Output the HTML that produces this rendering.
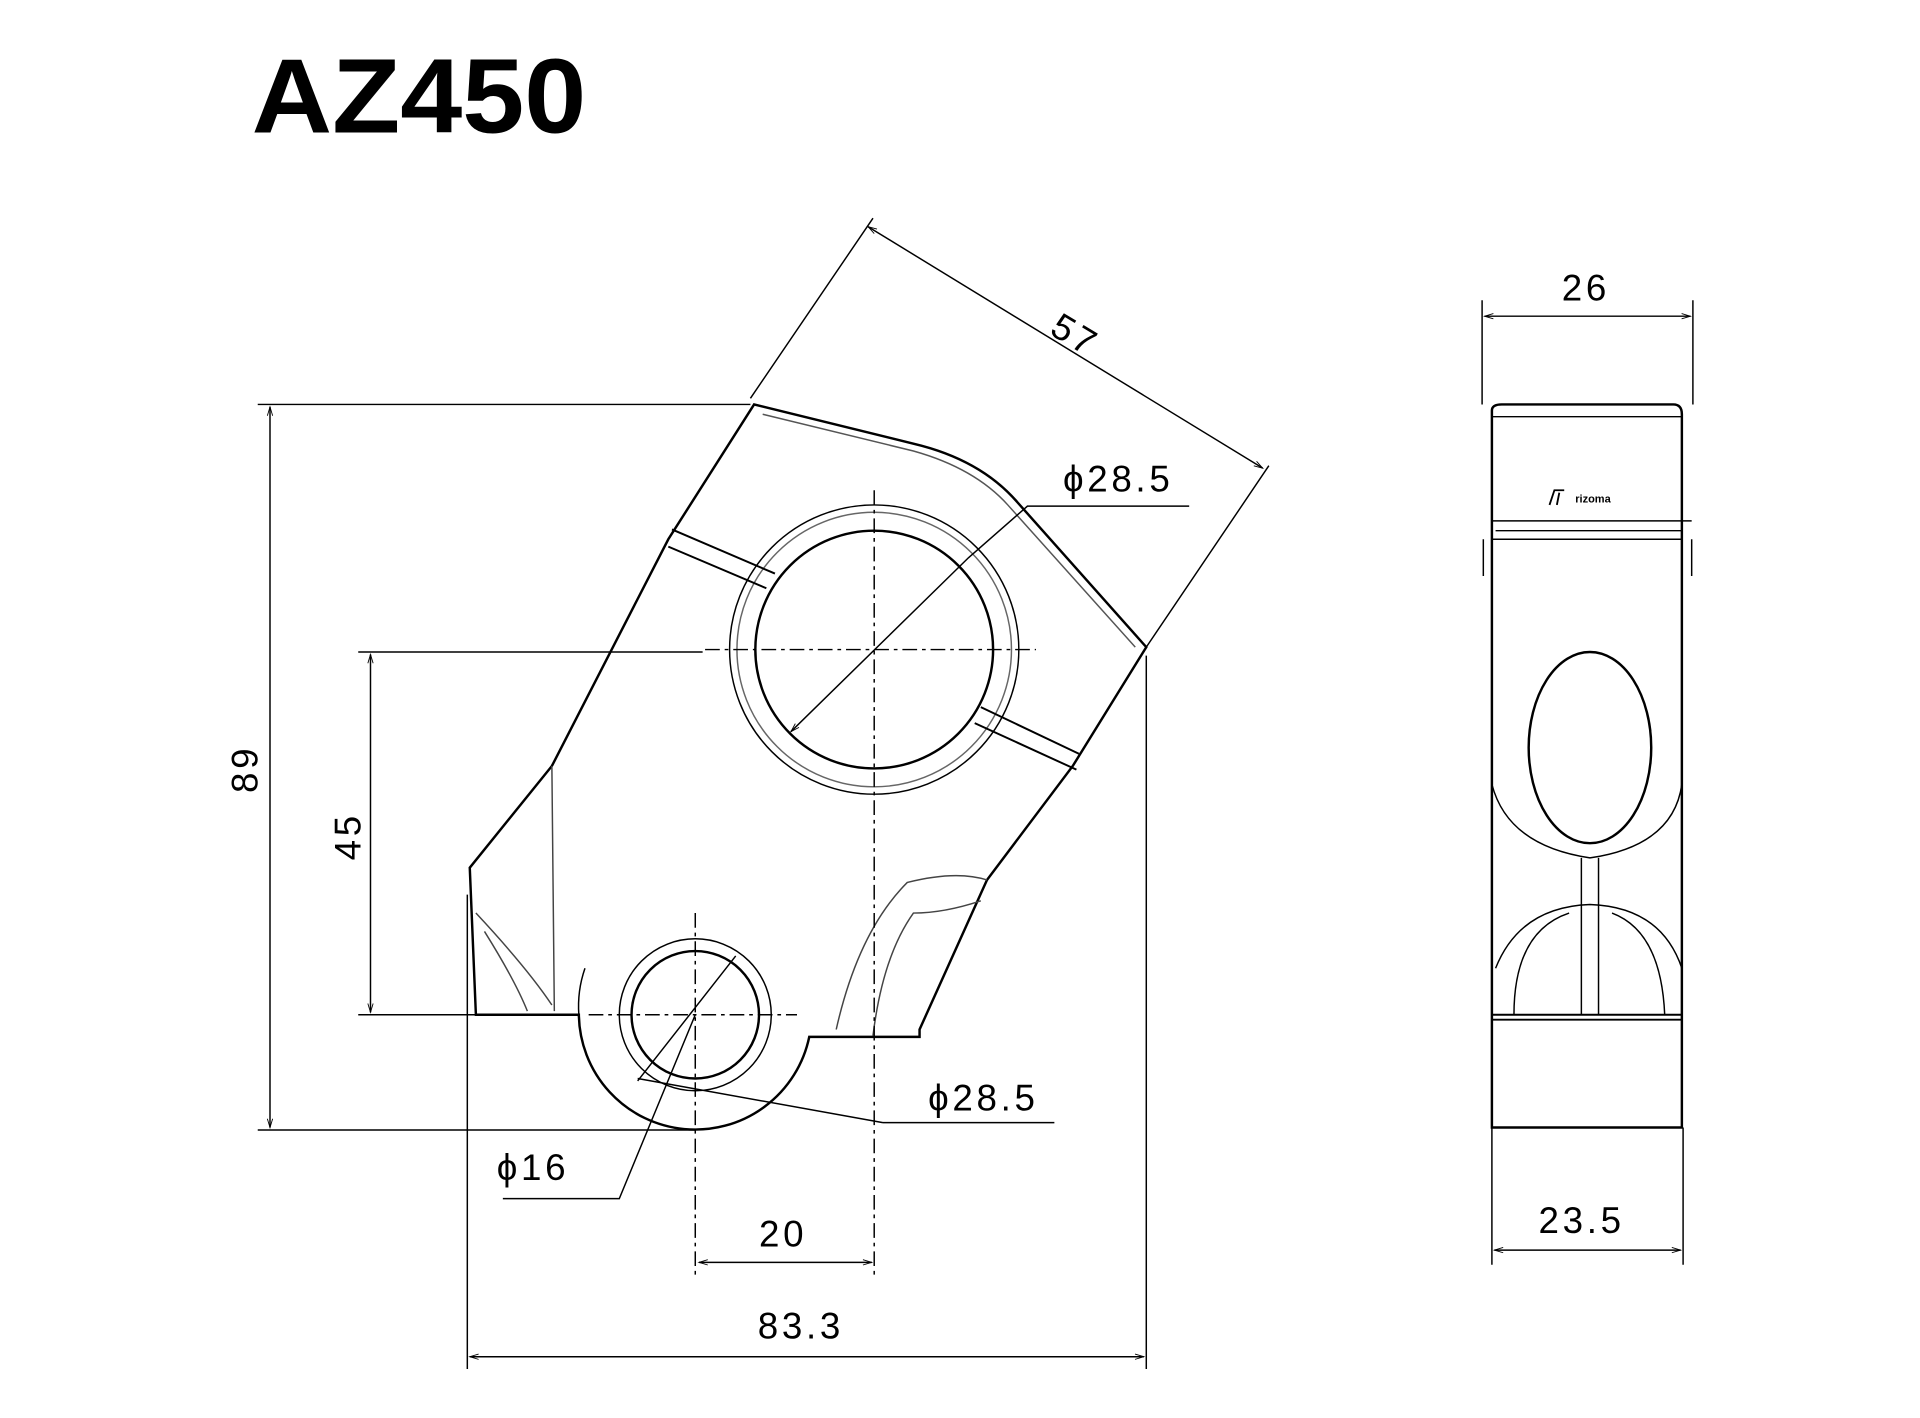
<!DOCTYPE html>
<html><head><style>
html,body{margin:0;padding:0;background:#fff;}
svg{display:block;}
text{font-family:"Liberation Sans",sans-serif;fill:#000;}
</style></head><body>
<svg width="1920" height="1418" viewBox="0 0 1566 1157" xmlns="http://www.w3.org/2000/svg">
<defs>
<marker id="a" viewBox="0 0 10 10" refX="10" refY="5" markerWidth="10" markerHeight="6" orient="auto-start-reverse"><path d="M0,2 L10,5 L0,8" fill="none" stroke="#000" stroke-width="1"/></marker>
</defs>
<text x="205" y="108" font-size="86" font-weight="bold" textLength="273" lengthAdjust="spacingAndGlyphs">AZ450</text>

<g fill="none" stroke="#000" stroke-width="1.2">
<path d="M615,330 L745,362 Q800,375 830,410 L935,528 L875,625 L805,718 L750,840 L750,846 L660,846 A95,95 0 0 1 472,828 L388,828 L383,708 L450,625 L545,440 Z" stroke-width="2"/>
<path d="M622,338 L745,368 Q795,382 822,412 L926,528" stroke="#555"/>
<circle cx="713" cy="530" r="118"/>
<circle cx="713" cy="530" r="112" stroke="#666"/>
<circle cx="713" cy="530" r="97" stroke-width="2"/>
<path d="M548,432 L632,468 M545,446 L625,480" stroke-width="1.6"/>
<path d="M795,590 L878,628 M800,577 L880,615" stroke-width="1.6"/>
<path d="M450,625 L452,825 M388,745 Q430,790 450,820 M395,760 Q420,800 430,825" stroke="#444"/>
<path d="M805,718 Q780,710 740,720 Q700,760 682,840 M800,735 Q770,745 745,745 Q720,780 712,845" stroke="#444"/>
<circle cx="567" cy="828" r="62"/>
<circle cx="567" cy="828" r="52" stroke-width="2"/>
<path d="M477,790 A95,95 0 0 0 472,828" />
<path d="M713,400 L713,1040 M575,530 L845,530 M567,745 L567,1040 M480,828 L650,828" stroke-dasharray="12,4,3,4"/>
<path d="M645,597 L790,455 L838,413 L970,413" marker-start="url(#a)"/>
<path d="M520,882 L600,780 M720,916 L860,916 M520,880 L720,916"/>
<path d="M567,828 L505,978 L410,978"/>
<path d="M210,330 L612,330 M210,922 L567,922"/>
<path d="M220,332 L220,920" marker-start="url(#a)" marker-end="url(#a)"/>
<path d="M292,532 L573,532 M292,828 L388,828"/>
<path d="M302,534 L302,826" marker-start="url(#a)" marker-end="url(#a)"/>
<path d="M612,325 L712,178 M935,528 L1035,380"/>
<path d="M708,185 L1030,382" marker-start="url(#a)" marker-end="url(#a)"/>
<path d="M381,730 L381,1117 M935,535 L935,1117"/>
<path d="M383,1107 L933,1107" marker-start="url(#a)" marker-end="url(#a)"/>
<path d="M570,1030 L711,1030" marker-start="url(#a)" marker-end="url(#a)"/>

<path d="M1217,920 L1217,335 Q1217,330 1225,330 L1365,330 Q1372,330 1372,338 L1372,920 Z" stroke-width="2"/>
<path d="M1217,340 L1372,340 M1217,425 L1380,425 M1220,433 L1372,433 M1217,440 L1372,440" />
<path d="M1210,440 L1210,470 M1380,440 L1380,470"/>
<ellipse cx="1297" cy="610" rx="50" ry="78" stroke-width="2"/>
<path d="M1217,640 Q1230,690 1297,700 Q1365,690 1372,640" />
<path d="M1290,700 L1290,828 M1304,700 L1304,828"/>
<path d="M1220,790 Q1240,740 1297,738 Q1355,740 1372,790 M1235,828 Q1235,760 1280,745 M1358,828 Q1355,760 1315,745"/>
<path d="M1217,828 L1372,828 M1217,832 L1372,832" stroke-width="1.6"/>
<path d="M1264,412 L1268,400 L1276,400 M1270,412 L1272,402" stroke-width="1.5"/>
<path d="M1209,245 L1209,330 M1381,245 L1381,330"/>
<path d="M1211,258 L1379,258" marker-start="url(#a)" marker-end="url(#a)"/>
<path d="M1217,920 L1217,1032 M1373,920 L1373,1032"/>
<path d="M1219,1020 L1371,1020" marker-start="url(#a)" marker-end="url(#a)"/>
</g>
<text x="1285" y="410" font-size="9" font-weight="bold">rizoma</text>

<g font-size="30" letter-spacing="3">
<text x="1274" y="245">26</text>
<text x="1255" y="1006">23.5</text>
<text x="618" y="1092">83.3</text>
<text x="619" y="1017">20</text>
<text x="405" y="963">ϕ16</text>
<text x="757" y="906">ϕ28.5</text>
<text x="867" y="401">ϕ28.5</text>
<text transform="translate(210,647) rotate(-90)">89</text>
<text transform="translate(294,702) rotate(-90)">45</text>
<text transform="translate(855,272) rotate(31)">57</text>
</g>
</svg>
</body></html>
